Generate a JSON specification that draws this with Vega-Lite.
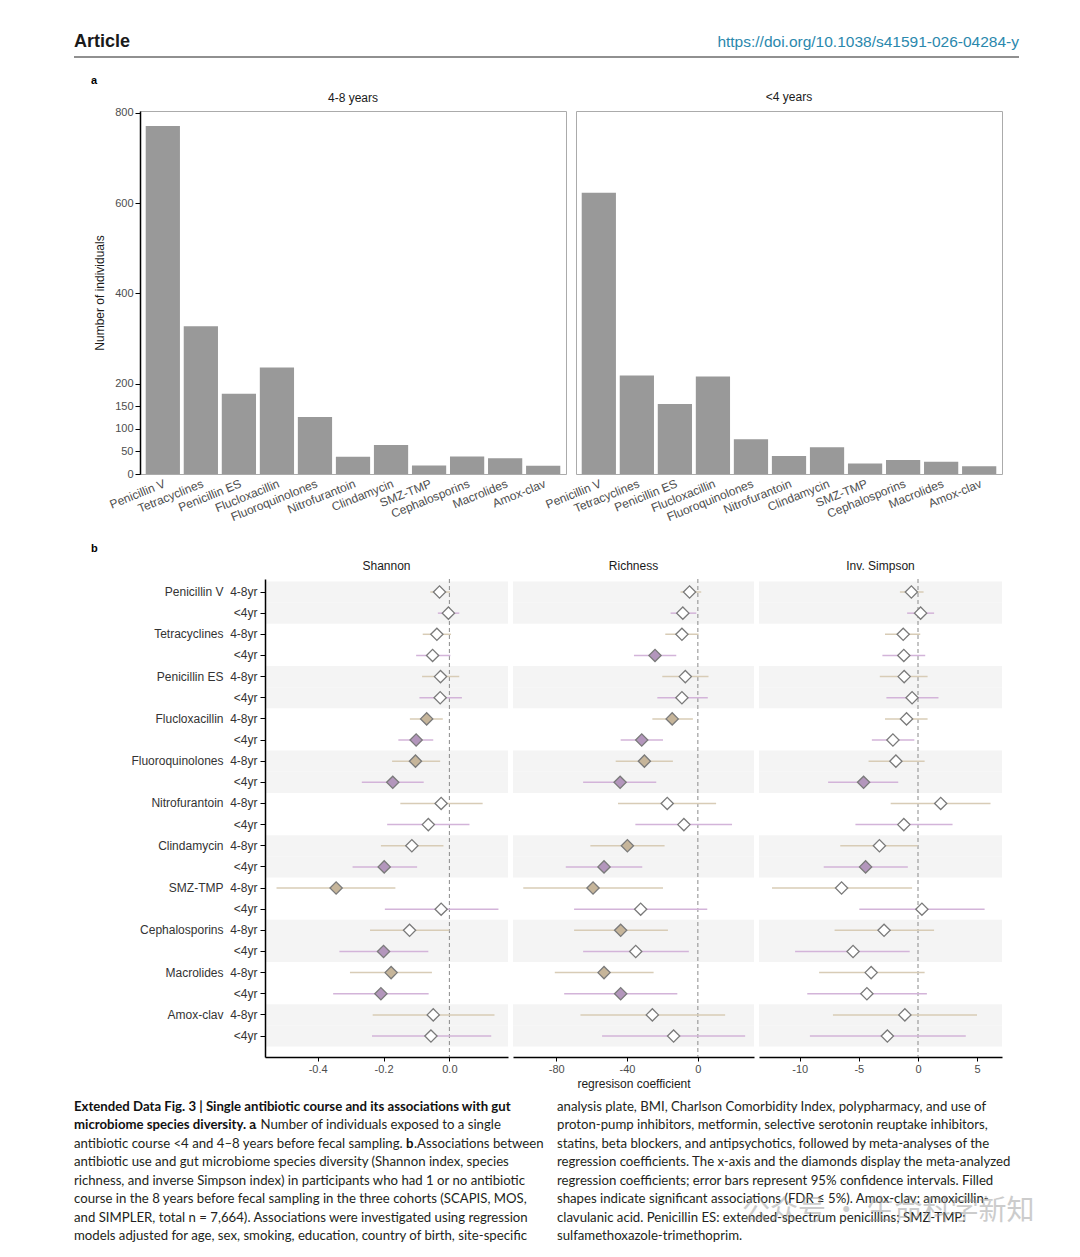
{
  "$schema": "https://vega.github.io/schema/vega-lite/v6.json",
  "background": "#ffffff",
  "padding": {"left": 73, "top": 30, "right": 5, "bottom": 5},
  "spacing": 0,
  "datasets": {
    "bars": [
      {"period": "4-8 years", "abx": "Penicillin V", "idx": 1, "n": 771},
      {"period": "4-8 years", "abx": "Tetracyclines", "idx": 2, "n": 327},
      {"period": "4-8 years", "abx": "Penicillin ES", "idx": 3, "n": 178},
      {"period": "4-8 years", "abx": "Flucloxacillin", "idx": 4, "n": 236},
      {"period": "4-8 years", "abx": "Fluoroquinolones", "idx": 5, "n": 126},
      {"period": "4-8 years", "abx": "Nitrofurantoin", "idx": 6, "n": 38},
      {"period": "4-8 years", "abx": "Clindamycin", "idx": 7, "n": 64},
      {"period": "4-8 years", "abx": "SMZ-TMP", "idx": 8, "n": 19},
      {"period": "4-8 years", "abx": "Cephalosporins", "idx": 9, "n": 39},
      {"period": "4-8 years", "abx": "Macrolides", "idx": 10, "n": 35},
      {"period": "4-8 years", "abx": "Amox-clav", "idx": 11, "n": 18},
      {"period": "<4 years", "abx": "Penicillin V", "idx": 1, "n": 623},
      {"period": "<4 years", "abx": "Tetracyclines", "idx": 2, "n": 218},
      {"period": "<4 years", "abx": "Penicillin ES", "idx": 3, "n": 155},
      {"period": "<4 years", "abx": "Flucloxacillin", "idx": 4, "n": 216},
      {"period": "<4 years", "abx": "Fluoroquinolones", "idx": 5, "n": 77},
      {"period": "<4 years", "abx": "Nitrofurantoin", "idx": 6, "n": 40},
      {"period": "<4 years", "abx": "Clindamycin", "idx": 7, "n": 59},
      {"period": "<4 years", "abx": "SMZ-TMP", "idx": 8, "n": 23},
      {"period": "<4 years", "abx": "Cephalosporins", "idx": 9, "n": 31},
      {"period": "<4 years", "abx": "Macrolides", "idx": 10, "n": 27},
      {"period": "<4 years", "abx": "Amox-clav", "idx": 11, "n": 17}
    ],
    "forest": [
      {"abx":"Penicillin V","idx":1,"period":"4-8yr","row":"Penicillin V|4-8yr","s":-0.030,"sl":-0.058,"sh":0.002,"ss":false,"r":-4.7,"rl":-9.8,"rh":1.9,"rs":false,"v":-0.56,"vl":-1.53,"vh":0.47,"vs":false},
      {"abx":"Penicillin V","idx":1,"period":"<4yr","row":"Penicillin V|<4yr","s":-0.003,"sl":-0.035,"sh":0.030,"ss":false,"r":-8.5,"rl":-15.4,"rh":-0.9,"rs":false,"v":0.22,"vl":-0.92,"vh":1.36,"vs":false},
      {"abx":"Tetracyclines","idx":2,"period":"4-8yr","row":"Tetracyclines|4-8yr","s":-0.038,"sl":-0.081,"sh":0.005,"ss":false,"r":-9.0,"rl":-18.4,"rh":0.4,"rs":false,"v":-1.25,"vl":-2.79,"vh":0.19,"vs":false},
      {"abx":"Tetracyclines","idx":2,"period":"<4yr","row":"Tetracyclines|<4yr","s":-0.051,"sl":-0.101,"sh":0.003,"ss":false,"r":-24.2,"rl":-36.1,"rh":-12.2,"rs":true,"v":-1.20,"vl":-3.01,"vh":0.61,"vs":false},
      {"abx":"Penicillin ES","idx":3,"period":"4-8yr","row":"Penicillin ES|4-8yr","s":-0.027,"sl":-0.083,"sh":0.030,"ss":false,"r":-7.1,"rl":-20.1,"rh":6.0,"rs":false,"v":-1.17,"vl":-3.23,"vh":0.81,"vs":false},
      {"abx":"Penicillin ES","idx":3,"period":"<4yr","row":"Penicillin ES|<4yr","s":-0.028,"sl":-0.091,"sh":0.038,"ss":false,"r":-9.0,"rl":-22.9,"rh":5.6,"rs":false,"v":-0.50,"vl":-2.67,"vh":1.73,"vs":false},
      {"abx":"Flucloxacillin","idx":4,"period":"4-8yr","row":"Flucloxacillin|4-8yr","s":-0.069,"sl":-0.120,"sh":-0.020,"ss":true,"r":-14.5,"rl":-25.7,"rh":-2.8,"rs":true,"v":-0.97,"vl":-2.79,"vh":0.81,"vs":false},
      {"abx":"Flucloxacillin","idx":4,"period":"<4yr","row":"Flucloxacillin|<4yr","s":-0.101,"sl":-0.155,"sh":-0.049,"ss":true,"r":-31.7,"rl":-43.6,"rh":-19.7,"rs":true,"v":-2.12,"vl":-3.90,"vh":-0.31,"vs":false},
      {"abx":"Fluoroquinolones","idx":5,"period":"4-8yr","row":"Fluoroquinolones|4-8yr","s":-0.103,"sl":-0.174,"sh":-0.028,"ss":true,"r":-30.2,"rl":-46.4,"rh":-14.1,"rs":true,"v":-1.87,"vl":-4.18,"vh":0.56,"vs":false},
      {"abx":"Fluoroquinolones","idx":5,"period":"<4yr","row":"Fluoroquinolones|<4yr","s":-0.172,"sl":-0.266,"sh":-0.078,"ss":true,"r":-43.9,"rl":-64.8,"rh":-23.5,"rs":true,"v":-4.60,"vl":-7.60,"vh":-1.67,"vs":true},
      {"abx":"Nitrofurantoin","idx":6,"period":"4-8yr","row":"Nitrofurantoin|4-8yr","s":-0.025,"sl":-0.149,"sh":0.101,"ss":false,"r":-17.3,"rl":-45.1,"rh":10.3,"rs":false,"v":1.92,"vl":-2.31,"vh":6.13,"vs":false},
      {"abx":"Nitrofurantoin","idx":6,"period":"<4yr","row":"Nitrofurantoin|<4yr","s":-0.064,"sl":-0.189,"sh":0.061,"ss":false,"r":-7.9,"rl":-35.3,"rh":19.3,"rs":false,"v":-1.20,"vl":-5.29,"vh":2.92,"vs":false},
      {"abx":"Clindamycin","idx":7,"period":"4-8yr","row":"Clindamycin|4-8yr","s":-0.114,"sl":-0.208,"sh":-0.018,"ss":false,"r":-39.8,"rl":-60.7,"rh":-18.8,"rs":true,"v":-3.26,"vl":-6.57,"vh":-0.03,"vs":false},
      {"abx":"Clindamycin","idx":7,"period":"<4yr","row":"Clindamycin|<4yr","s":-0.198,"sl":-0.294,"sh":-0.098,"ss":true,"r":-53.0,"rl":-74.6,"rh":-31.4,"rs":true,"v":-4.43,"vl":-7.97,"vh":-0.86,"vs":true},
      {"abx":"SMZ-TMP","idx":8,"period":"4-8yr","row":"SMZ-TMP|4-8yr","s":-0.344,"sl":-0.525,"sh":-0.164,"ss":true,"r":-59.2,"rl":-98.6,"rh":-19.7,"rs":true,"v":-6.46,"vl":-12.34,"vh":-0.50,"vs":false},
      {"abx":"SMZ-TMP","idx":8,"period":"<4yr","row":"SMZ-TMP|<4yr","s":-0.025,"sl":-0.196,"sh":0.149,"ss":false,"r":-32.3,"rl":-69.9,"rh":5.3,"rs":false,"v":0.33,"vl":-4.96,"vh":5.63,"vs":false},
      {"abx":"Cephalosporins","idx":9,"period":"4-8yr","row":"Cephalosporins|4-8yr","s":-0.121,"sl":-0.241,"sh":0.000,"ss":false,"r":-43.6,"rl":-69.9,"rh":-16.9,"rs":true,"v":-2.87,"vl":-7.05,"vh":1.36,"vs":false},
      {"abx":"Cephalosporins","idx":9,"period":"<4yr","row":"Cephalosporins|<4yr","s":-0.200,"sl":-0.334,"sh":-0.064,"ss":true,"r":-35.1,"rl":-64.8,"rh":-5.1,"rs":false,"v":-5.49,"vl":-10.39,"vh":-0.70,"vs":false},
      {"abx":"Macrolides","idx":10,"period":"4-8yr","row":"Macrolides|4-8yr","s":-0.177,"sl":-0.302,"sh":-0.053,"ss":true,"r":-53.0,"rl":-80.8,"rh":-25.0,"rs":true,"v":-3.96,"vl":-8.36,"vh":0.56,"vs":false},
      {"abx":"Macrolides","idx":10,"period":"<4yr","row":"Macrolides|<4yr","s":-0.208,"sl":-0.353,"sh":-0.063,"ss":true,"r":-43.6,"rl":-75.5,"rh":-11.6,"rs":true,"v":-4.32,"vl":-9.36,"vh":0.75,"vs":false},
      {"abx":"Amox-clav","idx":11,"period":"4-8yr","row":"Amox-clav|4-8yr","s":-0.049,"sl":-0.233,"sh":0.137,"ss":false,"r":-25.7,"rl":-66.3,"rh":15.4,"rs":false,"v":-1.11,"vl":-7.19,"vh":4.99,"vs":false},
      {"abx":"Amox-clav","idx":11,"period":"<4yr","row":"Amox-clav|<4yr","s":-0.056,"sl":-0.235,"sh":0.127,"ss":false,"r":-13.7,"rl":-54.1,"rh":26.7,"rs":false,"v":-2.59,"vl":-9.14,"vh":4.04,"vs":false}
    ],
    "caption": [
      {"c": 1, "l": 1, "k": "b", "t": "Extended Data Fig. 3 | Single antibiotic course and its associations with gut"},
      {"c": 1, "l": 2, "k": "b", "t": "microbiome species diversity. a"},
      {"c": 1, "l": 2, "k": "n2", "t": ". Number of individuals exposed to a single"},
      {"c": 1, "l": 3, "k": "n", "t": "antibiotic course <4 and 4–8 years before fecal sampling."},
      {"c": 1, "l": 3, "k": "b3", "t": "b"},
      {"c": 1, "l": 3, "k": "n3", "t": ".Associations between"},
      {"c": 1, "l": 4, "k": "n", "t": "antibiotic use and gut microbiome species diversity (Shannon index, species"},
      {"c": 1, "l": 5, "k": "n", "t": "richness, and inverse Simpson index) in participants who had 1 or no antibiotic"},
      {"c": 1, "l": 6, "k": "n", "t": "course in the 8 years before fecal sampling in the three cohorts (SCAPIS, MOS,"},
      {"c": 1, "l": 7, "k": "n", "t": "and SIMPLER, total n = 7,664). Associations were investigated using regression"},
      {"c": 1, "l": 8, "k": "n", "t": "models adjusted for age, sex, smoking, education, country of birth, site-specific"},
      {"c": 2, "l": 1, "k": "n", "t": "analysis plate, BMI, Charlson Comorbidity Index, polypharmacy, and use of"},
      {"c": 2, "l": 2, "k": "n", "t": "proton-pump inhibitors, metformin, selective serotonin reuptake inhibitors,"},
      {"c": 2, "l": 3, "k": "n", "t": "statins, beta blockers, and antipsychotics, followed by meta-analyses of the"},
      {"c": 2, "l": 4, "k": "n", "t": "regression coefficients. The x-axis and the diamonds display the meta-analyzed"},
      {"c": 2, "l": 5, "k": "n", "t": "regression coefficients; error bars represent 95% confidence intervals. Filled"},
      {"c": 2, "l": 6, "k": "n", "t": "shapes indicate significant associations (FDR ≤ 5%). Amox-clav: amoxicillin-"},
      {"c": 2, "l": 7, "k": "n", "t": "clavulanic acid. Penicillin ES: extended-spectrum penicillins; SMZ-TMP:"},
      {"c": 2, "l": 8, "k": "n", "t": "sulfamethoxazole-trimethoprim."}
    ]
  },
  "config": {
    "font": "Liberation Sans",
    "view": {"stroke": null},
    "axis": {"grid": false, "labelFont": "Liberation Sans", "titleFont": "Liberation Sans", "labelFlush": false, "labelOverlap": false},
    "title": {"font": "Liberation Sans"},
    "text": {"font": "Liberation Sans"}
  },
  "vconcat": [
    {
      "width": 945,
      "height": 60,
      "data": {"values": [
        {"k": "title", "t": "Article"},
        {"k": "url", "t": "https://doi.org/10.1038/s41591-026-04284-y"},
        {"k": "a", "t": "a"}
      ]},
      "layer": [
        {"transform": [{"filter": "datum.k == 'title'"}], "mark": {"type": "text", "align": "left", "baseline": "alphabetic", "fontSize": 18, "fontWeight": "bold", "color": "#1a1a1a"}, "encoding": {"text": {"field": "t"}, "x": {"value": 0}, "y": {"value": 17}}},
        {"transform": [{"filter": "datum.k == 'url'"}], "mark": {"type": "text", "align": "right", "baseline": "alphabetic", "fontSize": 15.5, "color": "#2a88ad"}, "encoding": {"text": {"field": "t"}, "x": {"value": 945}, "y": {"value": 16.5}}},
        {"transform": [{"filter": "datum.k == 'a'"}], "mark": {"type": "text", "align": "left", "baseline": "middle", "fontSize": 11, "fontWeight": "bold", "color": "#000000"}, "encoding": {"text": {"field": "t"}, "x": {"value": 17}, "y": {"value": 51}}},
        {"data": {"values": [{}]}, "mark": {"type": "rule", "color": "#222222", "strokeWidth": 1.2}, "encoding": {"x": {"value": 0}, "x2": {"value": 945}, "y": {"value": 27}}}
      ]
    },
    {
      "hconcat": [
        {
          "width": 56, "height": 448,
          "data": {"values": [{"t": "b"}]},
          "mark": {"type": "text", "fontSize": 11, "fontWeight": "bold", "align": "left", "baseline": "middle", "color": "#000000"},
          "encoding": {"text": {"field": "t"}, "x": {"value": 17}, "y": {"value": 438}}
        },
        {
          "width": 426, "height": 363,
          "data": {"name": "bars"},
          "transform": [{"filter": "datum.period == '4-8 years'"}],
          "title": {"text": "4-8 years", "fontSize": 12, "fontWeight": "normal", "color": "#1a1a1a", "anchor": "middle", "frame": "group", "offset": -10.5, "baseline": "bottom"},
          "view": {"stroke": "#ababab", "strokeWidth": 1},
          "mark": {"type": "bar", "color": "#999999"},
          "encoding": {
            "x": {"field": "abx", "type": "nominal", "sort": {"field": "idx", "op": "min"}, "scale": {"paddingInner": 0.1, "paddingOuter": 0.15},
                  "axis": {"title": null, "labelAngle": -22, "labelAlign": "right", "labelBaseline": "top", "ticks": false, "tickSize": 0, "domain": false, "labelFontSize": 12, "labelColor": "#4d4d4d", "labelPadding": 4}},
            "y": {"field": "n", "type": "quantitative", "scale": {"domain": [0, 804], "nice": false},
                  "axis": {"title": "Number of individuals", "values": [0, 50, 100, 150, 200, 400, 600, 800], "domainColor": "#000000", "domainWidth": 1.5, "tickColor": "#000000", "tickSize": 5, "tickWidth": 1, "labelFontSize": 11, "labelColor": "#4d4d4d", "labelPadding": 2, "titleFontSize": 12, "titleFontWeight": "normal", "titleColor": "#1a1a1a", "titlePadding": 8}}
          }
        },
        {
          "width": 426, "height": 363,
          "data": {"name": "bars"},
          "transform": [{"filter": "datum.period == '<4 years'"}],
          "title": {"text": "<4 years", "fontSize": 12, "fontWeight": "normal", "color": "#1a1a1a", "anchor": "middle", "frame": "group", "offset": -5, "baseline": "bottom"},
          "view": {"stroke": "#ababab", "strokeWidth": 1},
          "mark": {"type": "bar", "color": "#999999"},
          "encoding": {
            "x": {"field": "abx", "type": "nominal", "sort": {"field": "idx", "op": "min"}, "scale": {"paddingInner": 0.1, "paddingOuter": 0.15},
                  "axis": {"title": null, "labelAngle": -22, "labelAlign": "right", "labelBaseline": "top", "ticks": false, "tickSize": 0, "domain": false, "labelFontSize": 12, "labelColor": "#4d4d4d", "labelPadding": 4}},
            "y": {"field": "n", "type": "quantitative", "scale": {"domain": [0, 804], "nice": false}, "axis": null}
          }
        }
      ],
      "spacing": 10,
      "bounds": "flush"
    },
    {
      "hconcat": [
        {
          "width": 186, "height": 515,
          "data": {"values": [{"t": ""}]},
          "mark": {"type": "text"},
          "encoding": {"text": {"field": "t"}, "x": {"value": 0}, "y": {"value": 0}}
        },
        {
          "width": 243, "height": 478,
          "data": {"name": "forest"},
          "title": {"text": "Shannon", "fontSize": 12, "fontWeight": "normal", "color": "#1a1a1a", "anchor": "middle", "frame": "group", "offset": -6, "baseline": "bottom"},
          "encoding": {
            "y": {"field": "row", "type": "nominal", "sort": null,
                  "scale": {"type": "band", "paddingInner": 0, "paddingOuter": 0.303, "align": 0.19, "domain": ["Penicillin V|4-8yr","Penicillin V|<4yr","Tetracyclines|4-8yr","Tetracyclines|<4yr","Penicillin ES|4-8yr","Penicillin ES|<4yr","Flucloxacillin|4-8yr","Flucloxacillin|<4yr","Fluoroquinolones|4-8yr","Fluoroquinolones|<4yr","Nitrofurantoin|4-8yr","Nitrofurantoin|<4yr","Clindamycin|4-8yr","Clindamycin|<4yr","SMZ-TMP|4-8yr","SMZ-TMP|<4yr","Cephalosporins|4-8yr","Cephalosporins|<4yr","Macrolides|4-8yr","Macrolides|<4yr","Amox-clav|4-8yr","Amox-clav|<4yr"]},
                  "axis": {"title": null, "labelExpr": "indexof(datum.label, '<4yr') >= 0 ? '<4yr' : replace(datum.label, '|', '\u00a0 ')", "labelFontSize": 12, "labelColor": "#333333", "domainColor": "#000000", "domainWidth": 1.5, "tickColor": "#000000", "tickSize": 5, "tickWidth": 1, "labelPadding": 3}}
          },
          "layer": [
            {"transform": [{"filter": "datum.idx % 2 == 1"}], "mark": {"type": "rect", "color": "#f4f4f4"}, "encoding": {"x": {"datum": -0.56, "type": "quantitative"}, "x2": {"datum": 0.178}}},
            {"data": {"values": [{}]}, "mark": {"type": "rule", "color": "#8a8a8a", "strokeDash": [4, 3], "strokeWidth": 1}, "encoding": {"x": {"datum": 0, "type": "quantitative"}, "y": {"value": 0}, "y2": {"value": "height"}}},
            {"mark": {"type": "rule", "strokeWidth": 1.5}, "encoding": {"x": {"field": "sl", "type": "quantitative"}, "x2": {"field": "sh"}, "color": {"field": "period", "type": "nominal", "scale": {"domain": ["4-8yr", "<4yr"], "range": ["#d8ccb6", "#d3b4d9"]}, "legend": null}}},
            {"mark": {"type": "point", "shape": "diamond", "filled": true, "size": 150, "stroke": "#7a7a7a", "strokeWidth": 1.3, "opacity": 1},
             "encoding": {
               "x": {"field": "s", "type": "quantitative", "scale": {"domain": [-0.56, 0.178], "nice": false, "zero": false},
                     "axis": {"title": null, "values": [-0.4, -0.2, 0], "format": ".1f", "labelExpr": "replace(datum.label, '−', '-')", "domainColor": "#000000", "domainWidth": 1.5, "tickColor": "#000000", "tickSize": 4, "labelFontSize": 11, "labelColor": "#4d4d4d", "labelPadding": 2}},
               "fill": {"condition": {"test": "datum.ss", "field": "period", "type": "nominal", "scale": {"domain": ["4-8yr", "<4yr"], "range": ["#c6b59a", "#b396bc"]}, "legend": null}, "value": "#ffffff"}
             }}
          ]
        },
        {
          "width": 241, "height": 478,
          "data": {"name": "forest"},
          "title": {"text": "Richness", "fontSize": 12, "fontWeight": "normal", "color": "#1a1a1a", "anchor": "middle", "frame": "group", "offset": -6, "baseline": "bottom"},
          "encoding": {
            "y": {"field": "row", "type": "nominal", "sort": null,
                  "scale": {"type": "band", "paddingInner": 0, "paddingOuter": 0.303, "align": 0.19, "domain": ["Penicillin V|4-8yr","Penicillin V|<4yr","Tetracyclines|4-8yr","Tetracyclines|<4yr","Penicillin ES|4-8yr","Penicillin ES|<4yr","Flucloxacillin|4-8yr","Flucloxacillin|<4yr","Fluoroquinolones|4-8yr","Fluoroquinolones|<4yr","Nitrofurantoin|4-8yr","Nitrofurantoin|<4yr","Clindamycin|4-8yr","Clindamycin|<4yr","SMZ-TMP|4-8yr","SMZ-TMP|<4yr","Cephalosporins|4-8yr","Cephalosporins|<4yr","Macrolides|4-8yr","Macrolides|<4yr","Amox-clav|4-8yr","Amox-clav|<4yr"]},
                  "axis": null}
          },
          "layer": [
            {"transform": [{"filter": "datum.idx % 2 == 1"}], "mark": {"type": "rect", "color": "#f4f4f4"}, "encoding": {"x": {"datum": -104.4, "type": "quantitative"}, "x2": {"datum": 31.7}}},
            {"data": {"values": [{}]}, "mark": {"type": "rule", "color": "#8a8a8a", "strokeDash": [4, 3], "strokeWidth": 1}, "encoding": {"x": {"datum": 0, "type": "quantitative"}, "y": {"value": 0}, "y2": {"value": "height"}}},
            {"mark": {"type": "rule", "strokeWidth": 1.5}, "encoding": {"x": {"field": "rl", "type": "quantitative"}, "x2": {"field": "rh"}, "color": {"field": "period", "type": "nominal", "scale": {"domain": ["4-8yr", "<4yr"], "range": ["#d8ccb6", "#d3b4d9"]}, "legend": null}}},
            {"mark": {"type": "point", "shape": "diamond", "filled": true, "size": 150, "stroke": "#7a7a7a", "strokeWidth": 1.3, "opacity": 1},
             "encoding": {
               "x": {"field": "r", "type": "quantitative", "scale": {"domain": [-104.4, 31.7], "nice": false, "zero": false},
                     "axis": {"title": "regresison coefficient", "values": [-80, -40, 0], "format": "d", "labelExpr": "replace(datum.label, '−', '-')", "domainColor": "#000000", "domainWidth": 1.5, "tickColor": "#000000", "tickSize": 4, "labelFontSize": 11, "labelColor": "#4d4d4d", "labelPadding": 2, "titleFontSize": 12, "titleFontWeight": "normal", "titleColor": "#1a1a1a", "titlePadding": 4}},
               "fill": {"condition": {"test": "datum.rs", "field": "period", "type": "nominal", "scale": {"domain": ["4-8yr", "<4yr"], "range": ["#c6b59a", "#b396bc"]}, "legend": null}, "value": "#ffffff"}
             }}
          ]
        },
        {
          "width": 243, "height": 478,
          "data": {"name": "forest"},
          "title": {"text": "Inv. Simpson", "fontSize": 12, "fontWeight": "normal", "color": "#1a1a1a", "anchor": "middle", "frame": "group", "offset": -6, "baseline": "bottom"},
          "encoding": {
            "y": {"field": "row", "type": "nominal", "sort": null,
                  "scale": {"type": "band", "paddingInner": 0, "paddingOuter": 0.303, "align": 0.19, "domain": ["Penicillin V|4-8yr","Penicillin V|<4yr","Tetracyclines|4-8yr","Tetracyclines|<4yr","Penicillin ES|4-8yr","Penicillin ES|<4yr","Flucloxacillin|4-8yr","Flucloxacillin|<4yr","Fluoroquinolones|4-8yr","Fluoroquinolones|<4yr","Nitrofurantoin|4-8yr","Nitrofurantoin|<4yr","Clindamycin|4-8yr","Clindamycin|<4yr","SMZ-TMP|4-8yr","SMZ-TMP|<4yr","Cephalosporins|4-8yr","Cephalosporins|<4yr","Macrolides|4-8yr","Macrolides|<4yr","Amox-clav|4-8yr","Amox-clav|<4yr"]},
                  "axis": null}
          },
          "layer": [
            {"transform": [{"filter": "datum.idx % 2 == 1"}], "mark": {"type": "rect", "color": "#f4f4f4"}, "encoding": {"x": {"datum": -13.44, "type": "quantitative"}, "x2": {"datum": 7.1}}},
            {"data": {"values": [{}]}, "mark": {"type": "rule", "color": "#8a8a8a", "strokeDash": [4, 3], "strokeWidth": 1}, "encoding": {"x": {"datum": 0, "type": "quantitative"}, "y": {"value": 0}, "y2": {"value": "height"}}},
            {"mark": {"type": "rule", "strokeWidth": 1.5}, "encoding": {"x": {"field": "vl", "type": "quantitative"}, "x2": {"field": "vh"}, "color": {"field": "period", "type": "nominal", "scale": {"domain": ["4-8yr", "<4yr"], "range": ["#d8ccb6", "#d3b4d9"]}, "legend": null}}},
            {"mark": {"type": "point", "shape": "diamond", "filled": true, "size": 150, "stroke": "#7a7a7a", "strokeWidth": 1.3, "opacity": 1},
             "encoding": {
               "x": {"field": "v", "type": "quantitative", "scale": {"domain": [-13.44, 7.1], "nice": false, "zero": false},
                     "axis": {"title": null, "values": [-10, -5, 0, 5], "format": "d", "labelExpr": "replace(datum.label, '−', '-')", "domainColor": "#000000", "domainWidth": 1.5, "tickColor": "#000000", "tickSize": 4, "labelFontSize": 11, "labelColor": "#4d4d4d", "labelPadding": 2}},
               "fill": {"condition": {"test": "datum.vs", "field": "period", "type": "nominal", "scale": {"domain": ["4-8yr", "<4yr"], "range": ["#c6b59a", "#b396bc"]}, "legend": null}, "value": "#ffffff"}
             }}
          ]
        }
      ],
      "spacing": 5,
      "bounds": "flush"
    },
    {
      "width": 945,
      "height": 160,
      "data": {"name": "caption"},
      "encoding": {
        "x": {"field": "c", "type": "quantitative", "scale": {"domain": [1, 2], "range": [0, 483]}, "axis": null},
        "y": {"field": "l", "type": "quantitative", "scale": {"domain": [1, 8], "range": [13, 142.2]}, "axis": null},
        "text": {"field": "t"}
      },
      "layer": [
        {"transform": [{"filter": "datum.k == 'n'"}], "mark": {"type": "text", "align": "left", "baseline": "middle", "font": "Lato", "fontSize": 13.2, "color": "#231f20"}},
        {"transform": [{"filter": "datum.k == 'b'"}], "mark": {"type": "text", "align": "left", "baseline": "middle", "font": "Lato", "fontSize": 13.2, "fontWeight": "bold", "color": "#111111"}},
        {"transform": [{"filter": "datum.k == 'n2'"}], "mark": {"type": "text", "align": "left", "baseline": "middle", "font": "Lato", "fontSize": 13.2, "color": "#231f20", "dx": 180}},
        {"transform": [{"filter": "datum.k == 'b3'"}], "mark": {"type": "text", "align": "left", "baseline": "middle", "font": "Lato", "fontSize": 13.2, "fontWeight": "bold", "color": "#111111", "dx": 332}},
        {"transform": [{"filter": "datum.k == 'n3'"}], "mark": {"type": "text", "align": "left", "baseline": "middle", "font": "Lato", "fontSize": 13.2, "color": "#231f20", "dx": 340}},
        {"data": {"values": [{"t": "公众号 · 生命科学新知"}]}, "mark": {"type": "text", "align": "left", "baseline": "middle", "font": "Noto Sans CJK SC", "fontSize": 28, "color": "#9a9a9a", "opacity": 0.5}, "encoding": {"text": {"field": "t"}, "x": {"value": 668}, "y": {"value": 118}}}
      ]
    }
  ]
}
